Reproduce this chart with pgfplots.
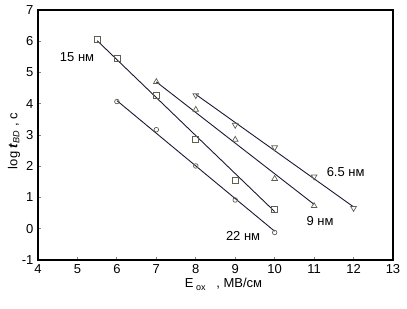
\documentclass[border=0pt]{standalone}
\usepackage{pgfplots}
\pgfplotsset{compat=1.18}
\usepackage{fontspec}
\setmainfont{Liberation Sans}
\definecolor{ln}{RGB}{25,25,55}
\definecolor{mk}{RGB}{95,95,80}
\begin{document}
\begin{tikzpicture}
\path[use as bounding box] (-38pt,-48pt) rectangle (369pt,260pt);
\begin{axis}[
  at={(0,0)}, anchor=south west,
  scale only axis, width=355pt, height=250pt,
  xmin=4, xmax=13, ymin=-1, ymax=7,
  xtick={4,5,...,13}, ytick={-1,0,...,7},
  xtick pos=left, ytick pos=left,
  tick align=inside, major tick length=3pt,
  every tick/.style={gray, line width=0.8pt},
  axis line style={line width=1.6pt},
  /pgf/number format/assume math mode=true,
  tick label style={font=\fontsize{13}{15}\selectfont},
  xticklabel style={yshift=-1pt},
  yticklabel style={xshift=-1pt},
  xlabel={E\raisebox{-3pt}{\fontsize{9}{10}\selectfont\ ox}\ \ \ , МВ/см},
  ylabel={log \textbf{\textit{t}}\textsubscript{\textit{BD}} , c},
  label style={font=\fontsize{13}{15}\selectfont},
  xlabel style={yshift=3pt, xshift=8pt},
  ylabel style={yshift=-5pt, xshift=-6pt},
  clip=false,
]
% fit lines
\addplot[ln, line width=0.9pt] coordinates {(5.5,6.02) (10,0.55)};
\addplot[ln, line width=0.9pt] coordinates {(6,4.1) (10,-0.08)};
\addplot[ln, line width=0.9pt] coordinates {(7,4.7) (11,0.78)};
\addplot[ln, line width=0.9pt] coordinates {(8,4.3) (12,0.7)};
% 15 nm
\addplot[only marks, mark=square, mark size=3pt, mk, line width=0.7pt] coordinates {
(5.5,6.07) (6,5.46) (7,4.26) (8,2.85) (9,1.54) (10,0.62)};
% 22 nm
\addplot[only marks, mark=o, mark size=2.3pt, mk, line width=0.7pt] coordinates {
(6,4.07) (7,3.17) (8,2.01) (9,0.92) (10,-0.12)};
% 9 nm
\addplot[only marks, mark=triangle, mark size=3.3pt, mk, line width=0.7pt] coordinates {
(7,4.7) (8,3.81) (9,2.85) (10,1.6) (11,0.73)};
% 6.5 nm
\addplot[only marks, mark=triangle, mark options={rotate=180}, mark size=3.3pt, mk, line width=0.7pt] coordinates {
(8,4.27) (9,3.32) (10,2.6) (11,1.67) (12,0.66)};
\node[font=\fontsize{13}{15}\selectfont] at (axis cs:4.99,5.5) {15 нм};
\node[font=\fontsize{13}{15}\selectfont] at (axis cs:11.8,1.82) {6.5 нм};
\node[font=\fontsize{13}{15}\selectfont] at (axis cs:11.15,0.25) {9 нм};
\node[font=\fontsize{13}{15}\selectfont] at (axis cs:9.2,-0.23) {22 нм};
\end{axis}
\end{tikzpicture}
\end{document}
